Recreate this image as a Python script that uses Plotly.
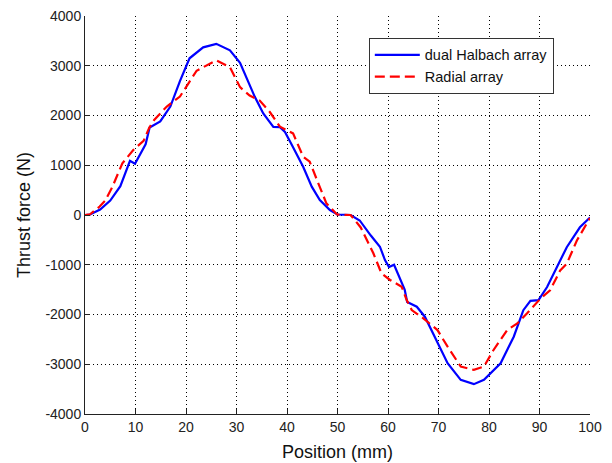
import plotly.graph_objects as go

# Dual Halbach array (blue solid)
halbach_x = [0, 1, 3, 5, 7, 8.9, 9.9, 10.9, 12.0, 12.8, 14.9, 16.9, 18.8, 20.7, 23.4, 26.0, 28.7, 30.7, 32.0,
             33.6, 35.3, 37.3, 38.6, 39.6, 41.2, 43.2, 44.9, 46.5, 48.5, 50.0, 52.6, 54.4, 56.6, 58.4, 59.4,
             60.2, 61.2, 62.5, 63.3, 63.8, 65.7, 67.3, 69.8, 71.8, 74.4, 77.0, 79.0, 82.3, 84.9, 86.8, 88.2,
             89.8, 91.5, 93.5, 95.4, 98.0, 100]
halbach_y = [0, 10, 110, 290, 580, 1090, 1030, 1230, 1420, 1760, 1880, 2180, 2690, 3150, 3370, 3440, 3310, 3060, 2770,
             2380, 2040, 1770, 1765, 1670, 1360, 970, 570, 300, 100, 10, 0, -110, -413, -637, -905,
             -1047, -1000, -1313, -1500, -1747, -1843, -2044, -2580, -2980, -3313, -3400, -3313, -2980, -2447, -1913, -1727,
             -1713, -1447, -1047, -647, -247, -50]

# Radial array (red dashed)
radial_x = [0, 1, 2.9, 4.0, 5.4, 7.4, 9.6, 11.6, 12.7, 13.7, 16.2, 18.8, 22.1, 26.0, 28.7, 30.7, 32.6, 34.6,
            36.6, 38.6, 39.9, 41.2, 43.2, 44.5, 46.2, 47.8, 49.9, 52.6, 54.6, 57.1, 58.7, 60.4, 62.7, 63.7,
            64.7, 67.0, 69.8, 71.8, 74.4, 77.0, 79.0, 80.9, 83.6, 85.6, 87.5, 90.2, 92.1, 94.1, 95.4, 97.4,
            99.3, 100]
radial_y = [0, 15, 170, 290, 560, 1040, 1310, 1490, 1750, 1910, 2180, 2380, 2900, 3110, 2970, 2570, 2400, 2300,
            2070, 1775, 1709, 1640, 1172, 1071, 637, 235, 10, 0, -250, -770, -1172, -1306, -1441, -1709,
            -1910, -2077, -2313, -2647, -3047, -3113, -3047, -2713, -2313, -2180, -1980, -1680, -1513, -1113, -980, -513,
            -180, -60]

x_ticks = [0, 10, 20, 30, 40, 50, 60, 70, 80, 90, 100]
y_ticks = [-4000, -3000, -2000, -1000, 0, 1000, 2000, 3000, 4000]

fig = go.Figure()
fig.add_trace(go.Scatter(x=halbach_x, y=halbach_y, mode="lines", name="dual Halbach array",
                         line=dict(color="#0000FF", width=2.2)))
fig.add_trace(go.Scatter(x=radial_x, y=radial_y, mode="lines", name="Radial array",
                         line=dict(color="#FF0000", width=2.2, dash="10px,5px")))

tick_font = dict(family="Liberation Sans, Arial, sans-serif", size=14, color="#222222")
title_font = dict(family="Liberation Sans, Arial, sans-serif", size=18, color="#111111")

fig.update_layout(
    width=612, height=463,
    margin=dict(l=85, r=22, t=16, b=49),
    paper_bgcolor="white", plot_bgcolor="white",
    showlegend=True,
    legend=dict(x=0.562, y=0.945, xanchor="left", yanchor="top",
                bgcolor="white", bordercolor="#333333", borderwidth=1,
                font=dict(family="Liberation Sans, Arial, sans-serif", size=14.5, color="#111111"),
                tracegroupgap=0, itemwidth=45),
    xaxis=dict(range=[0, 100], tickvals=x_ticks, ticktext=[str(v) for v in x_ticks],
               showline=True, linecolor="#222222", linewidth=1, mirror=False,
               ticks="inside", ticklen=5, tickcolor="#222222",
               showgrid=True, gridcolor="#000000", gridwidth=1, griddash="1px,3px",
               zeroline=False, tickfont=tick_font, automargin=False,
               title=dict(text="Position (mm)", font=title_font, standoff=11)),
    yaxis=dict(range=[-4000, 4000], tickvals=y_ticks, ticktext=[str(v) for v in y_ticks],
               showline=True, linecolor="#222222", linewidth=1, mirror=False,
               ticks="inside", ticklen=5, tickcolor="#222222",
               showgrid=True, gridcolor="#000000", gridwidth=1, griddash="1px,3px",
               zeroline=False, tickfont=tick_font, automargin=False,
               title=dict(text="Thrust force (N)", font=title_font, standoff=10)),
)

fig.write_html("out.html")
